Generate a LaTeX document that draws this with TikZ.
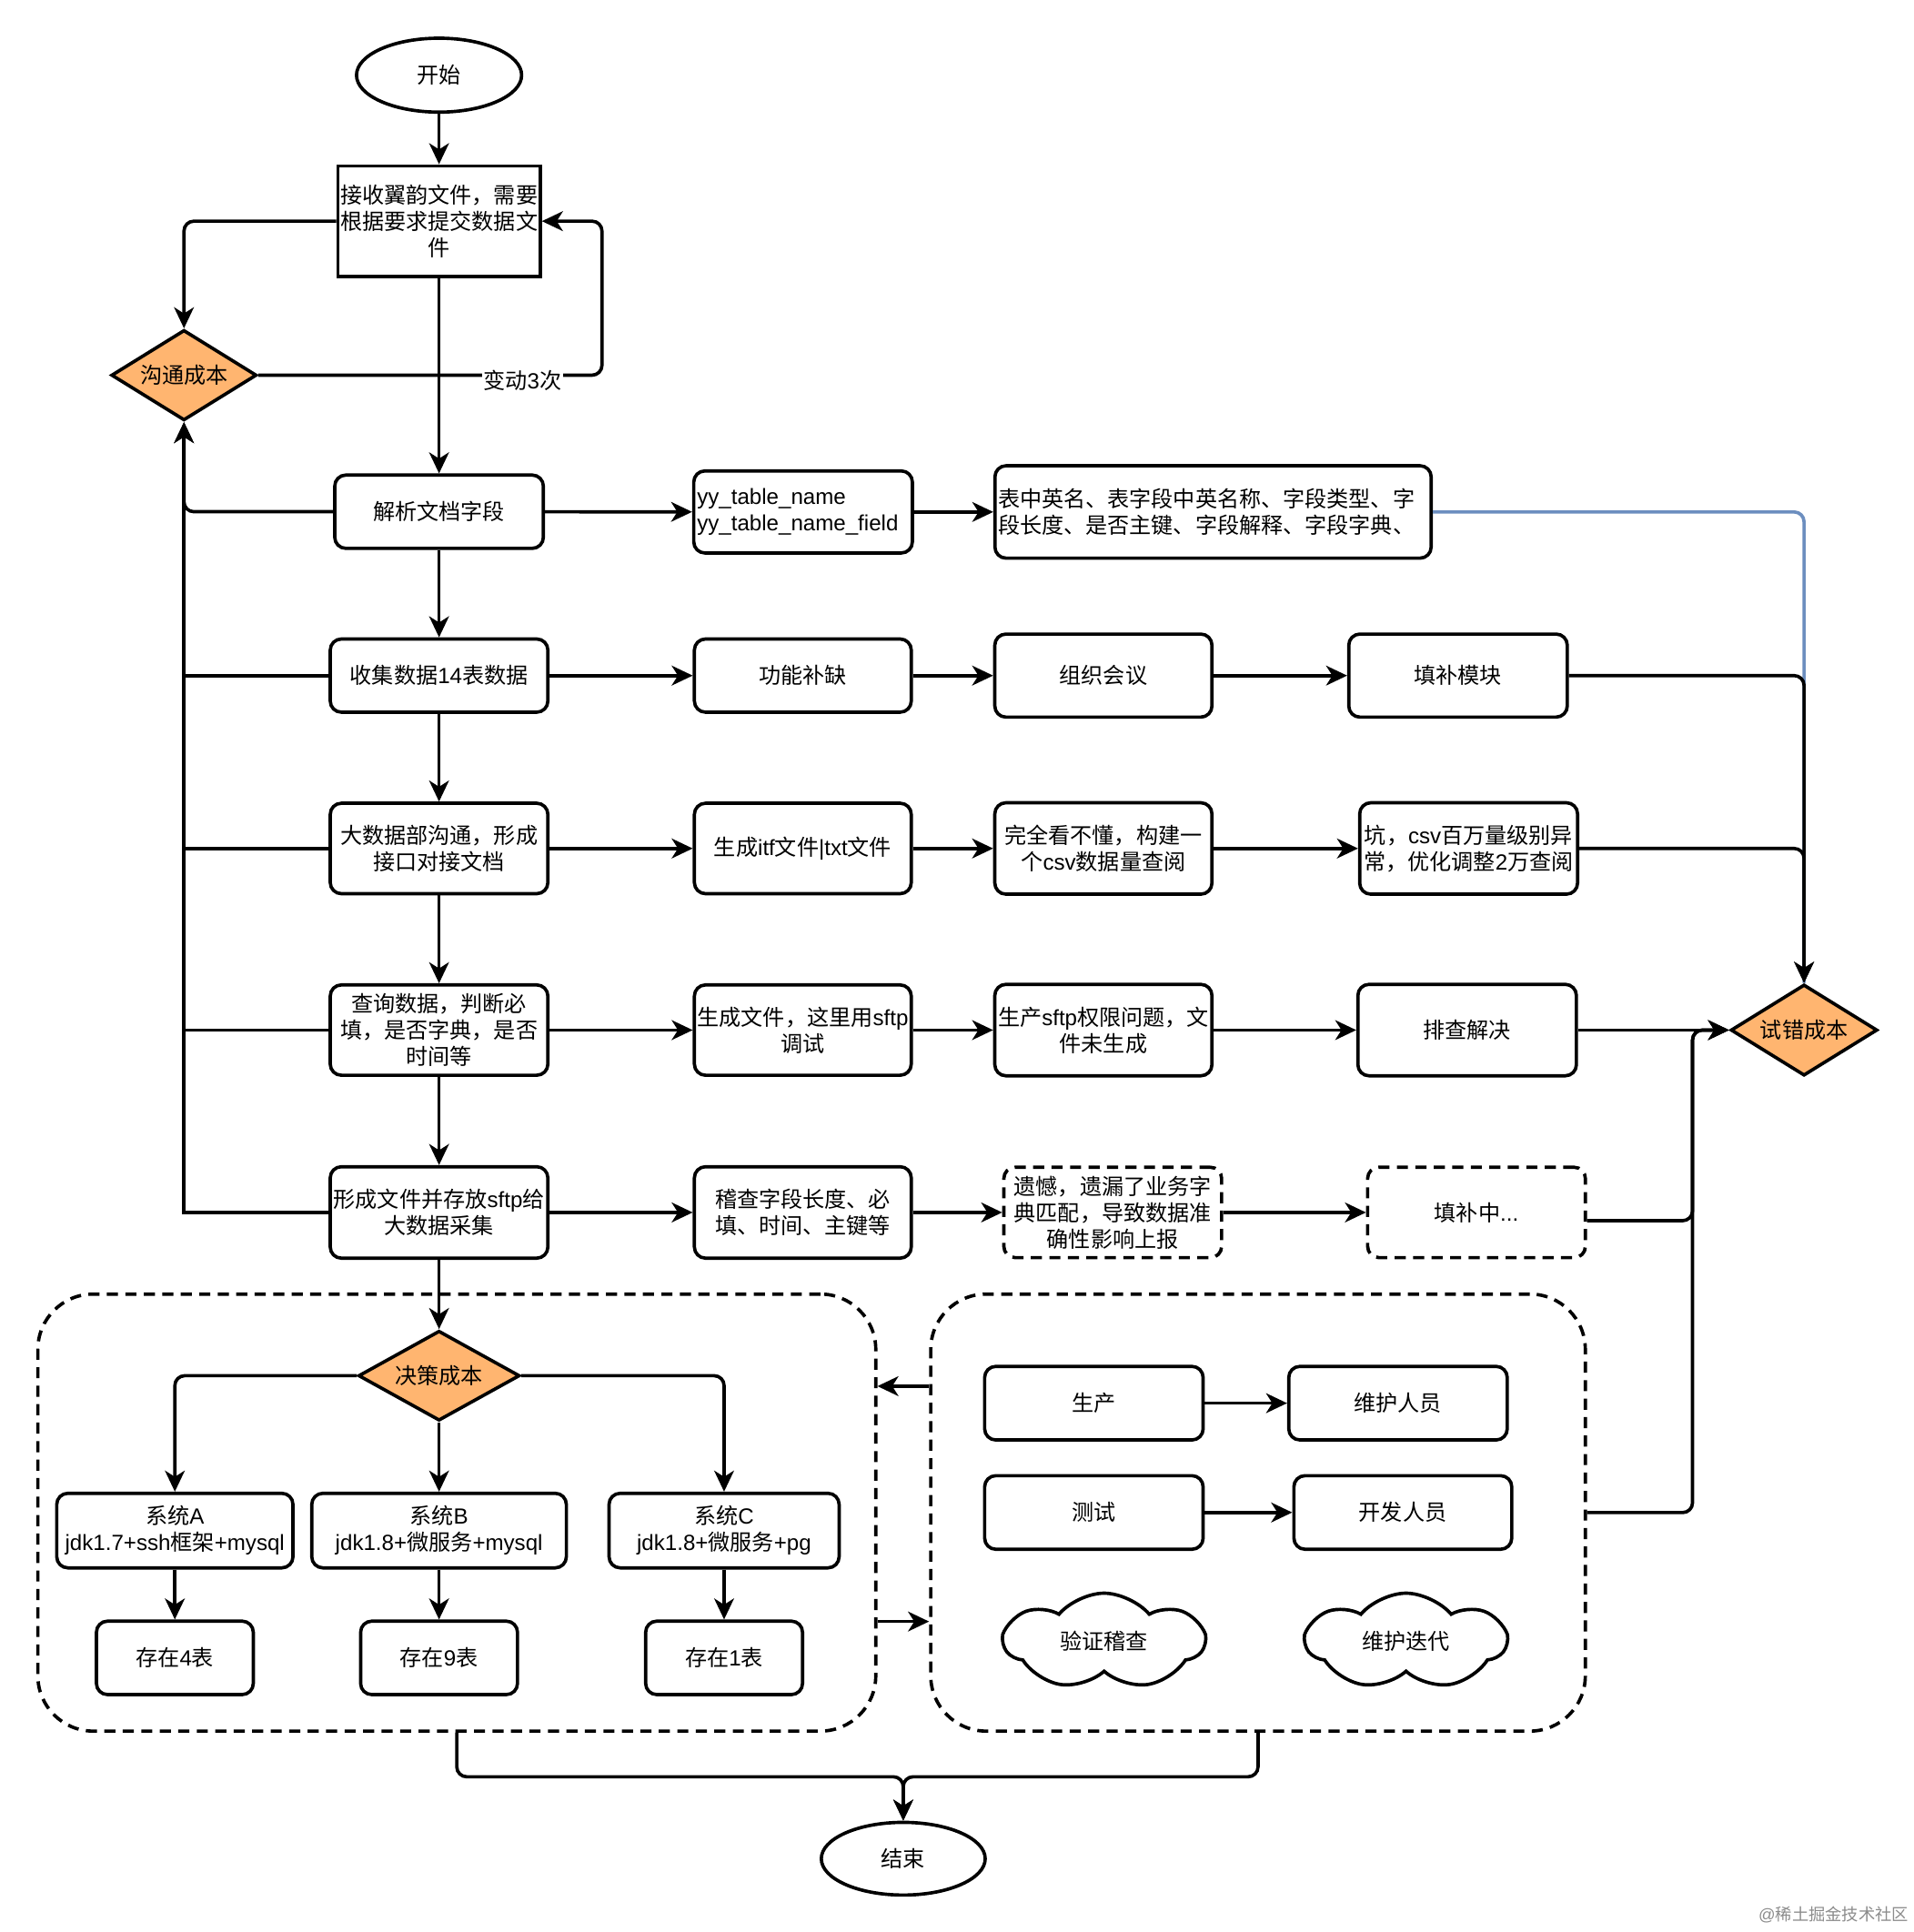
\documentclass[tikz,border=0pt]{standalone}
\usepackage{fontspec}
\setmainfont{Liberation Sans}
\newfontfamily\cjkf{Noto Sans CJK SC}
\newfontfamily\latf{Liberation Sans}
\usetikzlibrary{shapes.geometric,shapes.symbols,arrows.meta}
\newXeTeXintercharclass\CJKclass
\newcount\cjkcnt
\def\setcjkrange#1#2{\cjkcnt=#1\relax\loop\XeTeXcharclass\cjkcnt=\CJKclass\relax\ifnum\cjkcnt<#2\relax\advance\cjkcnt by 1\relax\repeat}
\setcjkrange{"4E00}{"9FFF}
\setcjkrange{"3000}{"303F}
\setcjkrange{"FF00}{"FFEF}
\XeTeXinterchartokenstate=1
\XeTeXinterchartoks 0 \CJKclass = {\cjkf}
\XeTeXinterchartoks 4095 \CJKclass = {\cjkf}
\XeTeXinterchartoks \CJKclass 0 = {\latf}
\XeTeXinterchartoks \CJKclass 4095 = {\latf}
\newcommand\dfs{\fontsize{17.8}{21.5}\selectfont}
\definecolor{orng}{HTML}{FFB570}
\definecolor{bluegray}{HTML}{6C8EBF}
\tikzset{
  sz/.style 2 args={minimum width=#1pt,minimum height=#2pt},
  base/.style={draw, line width=2.7pt, align=center, inner sep=2pt, font=\dfs, text=black, fill=white},
  box/.style={base, rectangle, rounded corners=9pt},
  sq/.style={base, rectangle},
  dbox/.style={box, dash pattern=on 9pt off 6pt},
  dia/.style={base, diamond, fill=orng, inner sep=0pt, shape aspect=1.6},
  ell/.style={base, ellipse, inner sep=0pt},
  cont/.style={draw, line width=2.7pt, rounded corners=45pt, dash pattern=on 9pt off 6pt, inner sep=0pt},
  cld/.style={base, cloud, cloud puffs=7, cloud puff arc=100, aspect=2, inner sep=0pt, minimum width=162pt, minimum height=78pt},
  conn/.style={line width=2.7pt, rounded corners=8pt},
  arr/.style={-{Stealth[length=17pt,width=16pt,inset=5pt]}},
  lbl/.style={font=\dfs, fill=white, inner sep=1pt, text=black}
}
\begin{document}
\begin{tikzpicture}[x=1pt,y=-1pt]
\fill[white] (0,0) rectangle (1553,1568);
\useasboundingbox (0,0) rectangle (1553,1568);

% containers
\node[cont, sz={680}{354.7}] (leftc) at (370.7,1227.6) {};
\node[cont, sz={531.2}{354.7}] (rightc) at (1020.9,1227.6) {};

% main column
\node[ell, sz={134}{60}] (start) at (356.3,61) {开始};
\node[sq, sz={163.4}{89.7}] (recv) at (356.3,179.5) {接收翼韵文件，需要\\根据要求提交数据文\\件};
\node[dia, sz={118}{73.4}] (comm) at (149.3,304.5) {沟通成本};
\node[box, sz={169.3}{59.5}] (parse) at (356.3,415.3) {解析文档字段};
\node[box, sz={177.4}{66.6}, text width=172pt, align=left] (yy) at (651.7,415.5) {yy\_table\_name\\yy\_table\_name\_field};
\node[box, sz={354}{75}, text width=349pt, align=left] (desc) at (984.4,415.5) {表中英名、表字段中英名称、字段类型、字\\段长度、是否主键、字段解释、字段字典、};

% row 2
\node[box, sz={176.6}{59.4}] (collect) at (356.3,548.3) {收集数据14表数据};
\node[box, sz={176}{59.4}] (func) at (651.5,548.3) {功能补缺};
\node[box, sz={176.2}{67.4}] (meet) at (895.4,548.3) {组织会议};
\node[box, sz={177.3}{67.4}] (fillmod) at (1183.2,548.3) {填补模块};

% row 3
\node[box, sz={176.6}{73.4}] (bigdata) at (356.3,688.6) {大数据部沟通，形成\\接口对接文档};
\node[box, sz={176}{73.4}] (gen) at (651.5,688.6) {生成itf文件|txt文件};
\node[box, sz={176.2}{74.2}] (csv) at (895.4,688.6) {完全看不懂，构建一\\个csv数据量查阅};
\node[box, sz={176.8}{74.2}] (pit) at (1191.8,688.6) {坑，csv百万量级别异\\常，优化调整2万查阅};

% row 4
\node[box, sz={176.6}{73.3}] (query) at (356.3,836) {查询数据，判断必\\填，是否字典，是否\\时间等};
\node[box, sz={176}{73.3}] (sftp) at (651.5,836) {生成文件，这里用sftp\\调试};
\node[box, sz={176.2}{74.2}] (perm) at (895.4,836) {生产sftp权限问题，文\\件未生成};
\node[box, sz={177.3}{74.2}] (solve) at (1190.6,836) {排查解决};
\node[dia, sz={119}{74}] (trial) at (1464,836) {试错成本};

% row 5
\node[box, sz={176.6}{74.2}] (form) at (356.3,984) {形成文件并存放sftp给\\大数据采集};
\node[box, sz={176}{74.2}] (audit) at (651.5,984) {稽查字段长度、必\\填、时间、主键等};
\node[dbox, sz={176.7}{73.3}] (regret) at (903,984) {遗憾，遗漏了业务字\\典匹配，导致数据准\\确性影响上报};
\node[dbox, sz={176.7}{73.3}] (filling) at (1198.2,984) {填补中...};

% left container content
\node[dia, sz={131}{73}] (decision) at (356.3,1116.5) {决策成本};
\node[box, sz={191.7}{60.5}] (sysA) at (141.9,1242.2) {系统A\\jdk1.7+ssh框架+mysql};
\node[box, sz={206.6}{60.5}] (sysB) at (356.3,1242.2) {系统B\\jdk1.8+微服务+mysql};
\node[box, sz={186.7}{60.5}] (sysC) at (587.6,1242.2) {系统C\\jdk1.8+微服务+pg};
\node[box, sz={127.3}{59.6}] (st4) at (141.9,1345.5) {存在4表};
\node[box, sz={127.3}{59.6}] (st9) at (356.3,1345.5) {存在9表};
\node[box, sz={127.3}{59.6}] (st1) at (587.6,1345.5) {存在1表};

% right container content
\node[box, sz={177.3}{59.7}] (prod) at (887.7,1138.8) {生产};
\node[box, sz={177.3}{59.7}] (maint) at (1134.5,1138.8) {维护人员};
\node[box, sz={177.3}{59.7}] (test) at (887.7,1227.5) {测试};
\node[box, sz={176.8}{59.7}] (dev) at (1138.4,1227.5) {开发人员};
\node[cld] (verify) at (896,1332) {验证稽查};
\node[cld] (iter) at (1141,1332) {维护迭代};

\node[ell, sz={133}{59}] (end) at (733,1508.5) {结束};

\node[font=\fontsize{13.5}{15}\selectfont, text=black!45, anchor=east, inner sep=0pt] (wm) at (1549,1554) {@稀土掘金技术社区};

\coordinate (loopR) at (488.5,179.5);
\coordinate (bus) at (1373.5,836);
\coordinate (jn) at (733,1442);

% blue connector (behind)
\draw[conn, draw=bluegray] (desc.east) -| (trial.north);

% top
\draw[conn, arr] (start) -- (recv);
\draw[conn, arr] (recv.west) -| (comm.north);
\draw[conn, arr] (comm.east) -| (loopR) -- (recv.east);
\node[lbl] (chg) at (424,309) {变动3次};
\draw[conn, arr] (recv) -- (parse);
\draw[conn, arr] (parse.west) -| (comm.south);
\draw[line width=2.7pt, arr] (form.west) -| (comm.south);
\draw[conn] (collect.west) -- (collect.west -| comm.south);
\draw[conn] (bigdata.west) -- (bigdata.west -| comm.south);
\draw[conn] (query.west) -- (query.west -| comm.south);

% main column
\draw[conn, arr] (parse) -- (collect);
\draw[conn, arr] (collect) -- (bigdata);
\draw[conn, arr] (bigdata) -- (query);
\draw[conn, arr] (query) -- (form);
\draw[conn, arr] (form) -- (decision);

% rows
\draw[conn, arr] (parse) -- (yy);
\draw[conn, arr] (yy) -- (desc);
\draw[conn, arr] (collect) -- (func);
\draw[conn, arr] (func) -- (meet);
\draw[conn, arr] (meet) -- (fillmod);
\draw[conn, arr] (fillmod.east) -| (trial.north);
\draw[conn, arr] (bigdata) -- (gen);
\draw[conn, arr] (gen) -- (csv);
\draw[conn, arr] (csv) -- (pit);
\draw[conn, arr] (pit.east) -| (trial.north);
\draw[conn, arr] (query) -- (sftp);
\draw[conn, arr] (sftp) -- (perm);
\draw[conn, arr] (perm) -- (solve);
\draw[conn, arr] (solve) -- (trial);
\draw[conn, arr] (form) -- (audit);
\draw[conn, arr] (audit) -- (regret);
\draw[conn, arr] (regret) -- (filling);
\draw[conn, arr] ([yshift=-6.7pt]filling.east) -| (bus) -- (trial.west);
\draw[conn, arr] (rightc.east) -| (bus) -- (trial.west);

% decision
\draw[conn, arr] (decision.west) -| (sysA.north);
\draw[conn, arr] (decision.east) -| (sysC.north);
\draw[conn, arr] (decision) -- (sysB);
\draw[conn, arr] (sysA) -- (st4);
\draw[conn, arr] (sysB) -- (st9);
\draw[conn, arr] (sysC) -- (st1);

% right container
\draw[conn, arr] (prod) -- (maint);
\draw[conn, arr] (test) -- (dev);

% between containers
\draw[conn, arr] ([yshift=102.6pt]rightc.west) -- ([yshift=102.6pt]leftc.east);
\draw[conn, arr] ([yshift=-88.4pt]leftc.east) -- ([yshift=-88.4pt]rightc.west);

% to end
\draw[conn, arr] (leftc.south) |- (jn) -- (end.north);
\draw[conn, arr] (rightc.south) |- (jn) -- (end.north);
\end{tikzpicture}
\end{document}
